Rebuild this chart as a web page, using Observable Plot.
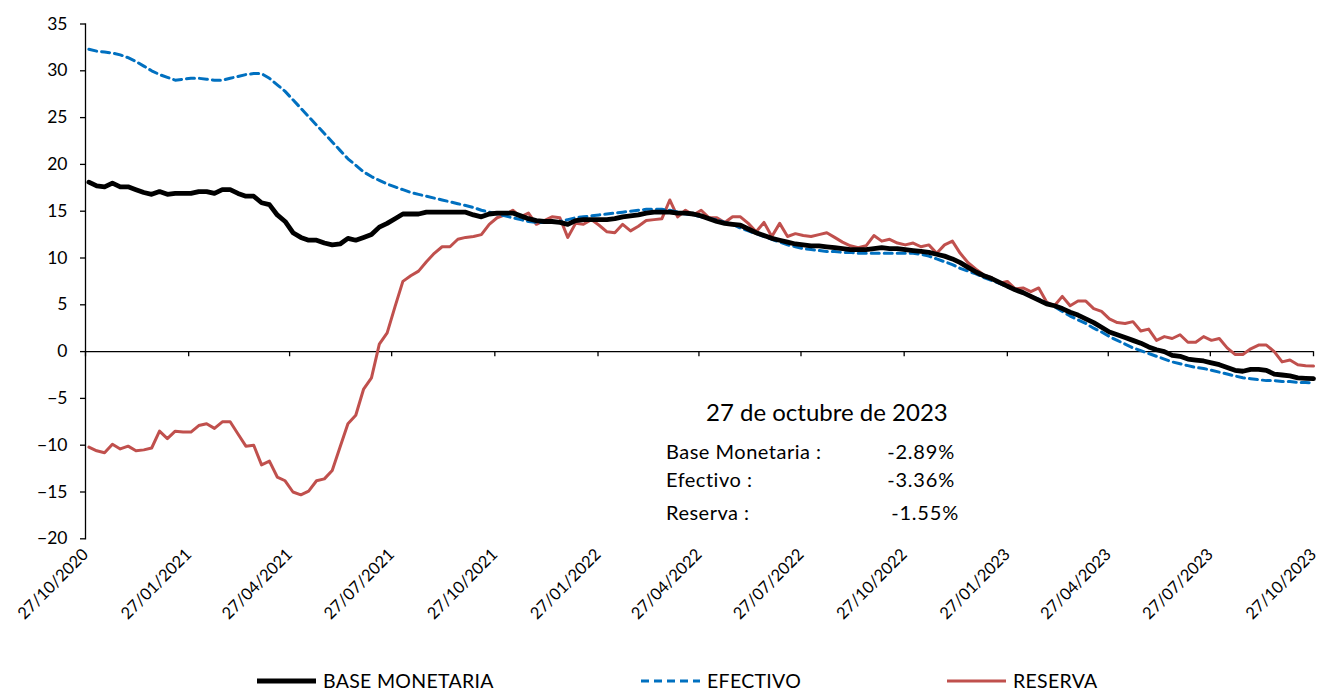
<!DOCTYPE html>
<html>
<head>
<meta charset="utf-8">
<script src="https://cdn.jsdelivr.net/npm/d3@7"></script>
<script src="https://cdn.jsdelivr.net/npm/@observablehq/plot@0.6"></script>
<style>
  body { margin: 0; background: #fff; font-family: Lato, "Open Sans", sans-serif; color: #000; }
  #wrap { position: relative; width: 1317px; height: 691px; overflow: hidden; }
  .t { position: absolute; white-space: nowrap; line-height: 1.1; }
  .title { font-size: 24px; }
  .lab { font-size: 20px; letter-spacing: 0.5px; }
  .val { font-size: 20px; letter-spacing: 0.8px; text-align: right; }
  .leg { position: absolute; top: 671px; height: 20px; line-height: 20px; display: flex; align-items: center; font-size: 19.5px; letter-spacing: 0.3px; white-space: nowrap; }
  .leg svg { margin-right: 6px; flex: none; }
</style>
</head>
<body>
<div id="wrap">
  <div id="chart"></div>
  <div class="t title" style="left:706px; top:399px;">27 de octubre de 2023</div>
  <div class="t lab" style="left:666px; top:440px;">Base Monetaria :</div>
  <div class="t val" style="left:835px; width:120px; top:440px;">-2.89%</div>
  <div class="t lab" style="left:666px; top:468px;">Efectivo :</div>
  <div class="t val" style="left:835px; width:120px; top:468px;">-3.36%</div>
  <div class="t lab" style="left:666px; top:501px;">Reserva :</div>
  <div class="t val" style="left:839px; width:120px; top:501px;">-1.55%</div>
  <div id="legend"></div>
</div>
<script>
// Weekly observations (Fridays) from 30/10/2020 to 27/10/2023
const startDate = Date.UTC(2020, 9, 30);
const axisStart = new Date(Date.UTC(2020, 9, 27));
const axisEnd = new Date(Date.UTC(2023, 9, 27));

const baseMonetaria = [
  18.1, 17.7, 17.6, 18.0, 17.6, 17.6, 17.3, 17.0, 16.8, 17.1,
  16.8, 16.9, 16.9, 16.9, 17.1, 17.1, 16.9, 17.3, 17.3, 16.9,
  16.6, 16.6, 15.9, 15.7, 14.6, 13.9, 12.7, 12.2, 11.9, 11.9,
  11.6, 11.4, 11.5, 12.1, 11.9, 12.2, 12.5, 13.3, 13.7, 14.2,
  14.7, 14.7, 14.7, 14.9, 14.9, 14.9, 14.9, 14.9, 14.9, 14.6,
  14.4, 14.7, 14.8, 14.8, 14.8, 14.5, 14.2, 14.0, 13.9, 13.9,
  13.8, 13.6, 14.0, 14.1, 14.1, 14.1, 14.1, 14.2, 14.4, 14.5,
  14.6, 14.8, 14.9, 14.9, 14.9, 14.8, 14.8, 14.7, 14.5, 14.2,
  13.9, 13.7, 13.6, 13.5, 13.1, 12.7, 12.4, 12.1, 11.9, 11.7,
  11.5, 11.4, 11.3, 11.3, 11.2, 11.1, 11.0, 10.9, 10.9, 10.9,
  11.0, 11.1, 11.0, 11.0, 10.9, 10.8, 10.7, 10.6, 10.4, 10.2,
  9.9, 9.5, 9.0, 8.5, 8.1, 7.8, 7.4, 7.0, 6.6, 6.3,
  5.9, 5.5, 5.1, 4.9, 4.6, 4.2, 3.9, 3.5, 3.1, 2.6,
  2.1, 1.8, 1.5, 1.2, 0.9, 0.5, 0.2, 0.0, -0.4, -0.5,
  -0.8, -0.9, -1.0, -1.2, -1.4, -1.7, -2.0, -2.1, -1.9, -1.9,
  -2.0, -2.4, -2.5, -2.6, -2.8, -2.85, -2.89
];

const efectivo = [
  32.3, 32.1, 32.0, 31.9, 31.7, 31.4, 31.0, 30.5, 30.0, 29.6,
  29.3, 29.0, 29.1, 29.2, 29.2, 29.1, 29.0, 29.0, 29.2, 29.4,
  29.6, 29.7, 29.7, 29.2, 28.5, 27.8, 26.9, 26.0, 25.1, 24.2,
  23.3, 22.4, 21.5, 20.6, 19.9, 19.2, 18.7, 18.3, 17.9, 17.6,
  17.3, 17.0, 16.8, 16.6, 16.4, 16.2, 16.0, 15.8, 15.6, 15.4,
  15.1, 14.9, 14.7, 14.5, 14.3, 14.1, 13.9, 13.8, 13.8, 13.8,
  13.9, 14.1, 14.3, 14.4, 14.5, 14.6, 14.7, 14.8, 14.9, 15.0,
  15.1, 15.2, 15.2, 15.2, 15.1, 14.9, 14.7, 14.6, 14.4, 14.2,
  14.1, 13.8, 13.6, 13.2, 12.9, 12.6, 12.3, 12.0, 11.7, 11.4,
  11.2, 11.0, 10.9, 10.8, 10.7, 10.7, 10.6, 10.6, 10.5, 10.5,
  10.5, 10.5, 10.5, 10.5, 10.5, 10.5, 10.4, 10.2, 9.9, 9.6,
  9.3, 8.9, 8.6, 8.3, 7.9, 7.6, 7.3, 6.9, 6.6, 6.3,
  5.9, 5.6, 5.2, 4.8, 4.3, 3.8, 3.4, 3.0, 2.5, 2.1,
  1.6, 1.2, 0.8, 0.4, 0.1, -0.2, -0.5, -0.8, -1.1, -1.3,
  -1.5, -1.7, -1.8, -2.0, -2.2, -2.4, -2.6, -2.8, -2.9, -3.0,
  -3.1, -3.1, -3.2, -3.2, -3.3, -3.3, -3.36
];

const reserva = [
  -10.2, -10.6, -10.8, -9.9, -10.4, -10.1, -10.6, -10.5, -10.3, -8.5,
  -9.3, -8.5, -8.6, -8.6, -7.9, -7.7, -8.2, -7.5, -7.5, -8.8,
  -10.1, -10.0, -12.1, -11.7, -13.4, -13.8, -15.0, -15.3, -14.9, -13.8,
  -13.6, -12.7, -10.2, -7.7, -6.8, -4.0, -2.8, 0.8, 2.0, 4.8,
  7.5, 8.1, 8.6, 9.6, 10.5, 11.2, 11.2, 12.0, 12.2, 12.3,
  12.5, 13.6, 14.3, 14.6, 15.1, 14.4, 14.8, 13.6, 14.0, 14.4,
  14.3, 12.2, 13.7, 13.6, 14.1, 13.5, 12.8, 12.7, 13.6, 12.9,
  13.4, 14.0, 14.1, 14.2, 16.2, 14.4, 15.1, 14.6, 15.1, 14.3,
  14.3, 13.8, 14.4, 14.4, 13.7, 12.8, 13.8, 12.3, 13.7, 12.3,
  12.6, 12.4, 12.3, 12.5, 12.7, 12.2, 11.7, 11.3, 11.1, 11.3,
  12.4, 11.8, 12.0, 11.6, 11.4, 11.6, 11.2, 11.4, 10.5, 11.4,
  11.8, 10.5, 9.5, 8.8, 8.2, 7.9, 7.3, 7.5, 6.7, 6.8,
  6.4, 6.8, 5.3, 4.9, 5.9, 4.9, 5.4, 5.4, 4.6, 4.3,
  3.5, 3.1, 3.0, 3.2, 2.2, 2.4, 1.2, 1.6, 1.4, 1.8,
  1.0, 1.0, 1.6, 1.2, 1.4, 0.4, -0.3, -0.3, 0.3, 0.7,
  0.7, 0.0, -1.1, -0.9, -1.4, -1.5, -1.55
];

const yTicks = [-20, -15, -10, -5, 0, 5, 10, 15, 20, 25, 30, 35];
const xTickLabels = ["27/10/2020", "27/01/2021", "27/04/2021", "27/07/2021", "27/10/2021", "27/01/2022",
  "27/04/2022", "27/07/2022", "27/10/2022", "27/01/2023", "27/04/2023", "27/07/2023", "27/10/2023"];
const seriesNames = ["BASE MONETARIA", "EFECTIVO", "RESERVA"];
const seriesColors = ["#000000", "#0070C0", "#C0504D"];

const parseDMY = d3.utcParse("%d/%m/%Y");
const fmtDMY = d3.utcFormat("%d/%m/%Y");
const xTicks = xTickLabels.map(parseDMY);
const dates = baseMonetaria.map((_, i) => d3.utcDay.offset(new Date(startDate), 7 * i));

const rows = [];
[baseMonetaria, efectivo, reserva].forEach((arr, s) => {
  arr.forEach((v, i) => rows.push({date: dates[i], value: v, series: seriesNames[s]}));
});

const chart = Plot.plot({
  width: 1317,
  height: 650,
  marginLeft: 85,
  marginRight: 4,
  marginTop: 23.5,
  marginBottom: 111.7,
  style: {fontFamily: "Lato, 'Open Sans', sans-serif", fontSize: "17.5px", color: "#000", background: "transparent", overflow: "visible"},
  x: {type: "utc", domain: [axisStart, axisEnd]},
  y: {domain: [-20, 35]},
  marks: [
    Plot.axisY({ticks: yTicks, tickSize: 5, tickPadding: 13, label: null, strokeWidth: 1.3}),
    Plot.frame({anchor: "left", stroke: "#000", strokeWidth: 1.3}),
    Plot.ruleY([0], {stroke: "#000", strokeWidth: 1.3}),
    Plot.ruleX(xTicks, {x: d => d, y1: 0, y2: -0.55, stroke: "#000", strokeWidth: 1.3}),
    Plot.axisX({ticks: xTicks, tickFormat: fmtDMY, tickRotate: -45, tickSize: 0, tickPadding: 13, dx: 0, fontSize: 16.5, textAnchor: "end", label: null}),
    Plot.lineY(rows.filter(d => d.series === "RESERVA"), {x: "date", y: "value", stroke: seriesColors[2], strokeWidth: 3}),
    Plot.lineY(rows.filter(d => d.series === "EFECTIVO"), {x: "date", y: "value", stroke: seriesColors[1], strokeWidth: 3, strokeDasharray: "8,5"}),
    Plot.lineY(rows.filter(d => d.series === "BASE MONETARIA"), {x: "date", y: "value", stroke: seriesColors[0], strokeWidth: 4.8})
  ]
});
document.getElementById("chart").appendChild(chart);

// Legend
const legendPos = [257, 641, 947];
const legend = document.getElementById("legend");
seriesNames.forEach((name, i) => {
  const item = document.createElement("div");
  item.className = "leg";
  item.style.left = legendPos[i] + "px";
  const dash = i === 1 ? 'stroke-dasharray="8,5"' : "";
  const w = i === 0 ? 4.8 : 3;
  item.innerHTML = `<svg width="60" height="10"><line x1="0" y1="5" x2="59" y2="5" stroke="${seriesColors[i]}" stroke-width="${w}" ${dash}/></svg><span>${name}</span>`;
  legend.appendChild(item);
});
</script>
</body>
</html>
